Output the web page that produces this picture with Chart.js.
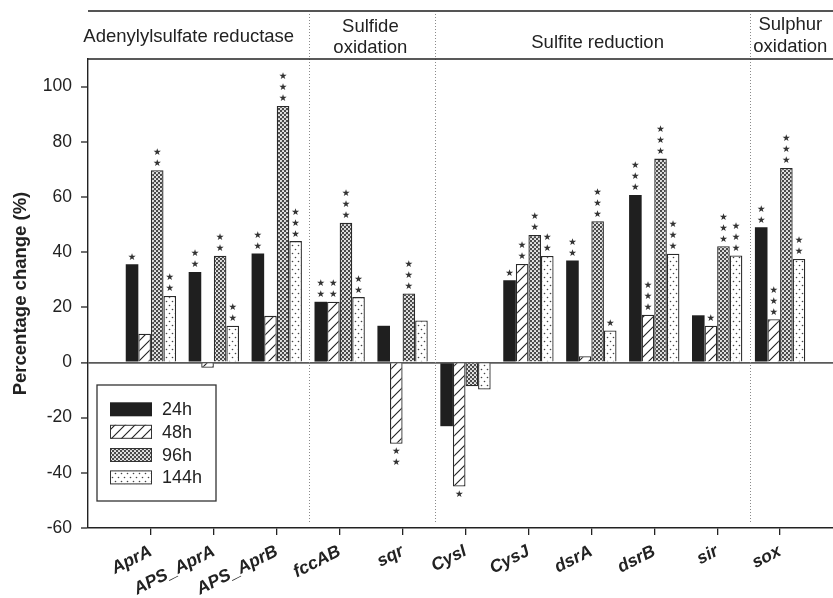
<!DOCTYPE html>
<html><head><meta charset="utf-8">
<script src="https://cdn.jsdelivr.net/npm/chart.js@4/dist/chart.umd.min.js"></script>
<style>
html,body{margin:0;padding:0;overflow:hidden;background:#fff;width:833px;height:598px}
#wrap{width:850px;height:598px;position:relative}
</style></head>
<body><div id="wrap"><canvas id="c" width="850" height="598"></canvas></div>
<script>
const categories = ['AprA','APS_AprA','APS_AprB','fccAB','sqr','CysI','CysJ','dsrA','dsrB','sir','sox'];
const seriesLabels = ['24h','48h','96h','144h'];
const values24h  = [35.6, 32.8, 39.5, 22.0, 13.3, -23.1, 29.8, 37.0, 60.7, 17.1, 49.0];
const values48h  = [10.4, -1.9, 16.9, 22.0, -29.5, -45.0, 35.7, 2.3, 17.3, 13.3, 15.7];
const values96h  = [69.7, 38.7, 93.0, 50.6, 25.0, -8.6, 46.2, 51.2, 73.9, 42.1, 70.5];
const values144h = [24.1, 13.3, 44.0, 23.7, 15.2, -9.8, 38.6, 11.6, 39.4, 38.8, 37.5];
const stars24h  = [1,2,2,2,0,0,1,2,3,0,2];
const stars48h  = [0,0,0,2,2,1,2,0,3,1,3];
const stars96h  = [2,2,3,3,3,0,2,3,3,3,3];
const stars144h = [2,2,3,2,0,0,2,1,3,3,2];
const groupTitles = [['Adenylylsulfate reductase'], ['Sulfide','oxidation'], ['Sulfite reduction'], ['Sulphur','oxidation']];
const groupLast = ['APS_AprB','sqr','sir','sox'];
const yTicks = [-60,-40,-20,0,20,40,60,80,100];
const yTitle = 'Percentage change (%)';

const FONT = "'Liberation Sans', Arial, sans-serif";
const axisLabels = [''].concat(categories, ['']);
const pad = a => [null].concat(a, [null]);

function makePattern(kind){
  const c = document.createElement('canvas');
  const g = c.getContext('2d');
  if (kind === 'hatch'){
    c.width = 10; c.height = 10;
    g.fillStyle = '#fff'; g.fillRect(0,0,10,10);
    g.strokeStyle = '#222'; g.lineWidth = 1.1;
    g.beginPath();
    g.moveTo(0,10); g.lineTo(10,0);
    g.moveTo(-2,2); g.lineTo(2,-2);
    g.moveTo(8,12); g.lineTo(12,8);
    g.stroke();
  } else if (kind === 'dense'){
    c.width = 4; c.height = 4;
    g.fillStyle = '#4a4a4a'; g.fillRect(0,0,4,4);
    g.fillStyle = '#f2f2f2';
    g.beginPath(); g.arc(1,1,1.05,0,Math.PI*2); g.fill();
    g.beginPath(); g.arc(3,3,1.05,0,Math.PI*2); g.fill();
  } else {
    c.width = 6; c.height = 8;
    g.fillStyle = '#fff'; g.fillRect(0,0,6,8);
    g.fillStyle = '#444';
    g.beginPath(); g.arc(1.5,1.5,0.8,0,Math.PI*2); g.fill();
    g.beginPath(); g.arc(4.5,5.5,0.8,0,Math.PI*2); g.fill();
  }
  return g.createPattern(c,'repeat');
}

const fills = ['#1f1f1f', makePattern('hatch'), makePattern('dense'), makePattern('sparse')];
const seriesValues = [values24h, values48h, values96h, values144h];
const seriesStars = [stars24h, stars48h, stars96h, stars144h];

const datasets = seriesLabels.map((lab,i)=>({
  label: lab,
  data: pad(seriesValues[i]),
  backgroundColor: fills[i],
  borderColor: '#2a2a2a',
  borderWidth: i === 0 ? 0 : 1.3,
  borderSkipped: 'start',
  categoryPercentage: 0.8,
  barPercentage: 1.0
}));

const decorPlugin = {
  id: 'decor',
  beforeDatasetsDraw(chart){
    const ctx = chart.ctx, ca = chart.chartArea, xs = chart.scales.x;
    const sp = xs.getPixelForValue(1) - xs.getPixelForValue(0);
    ctx.save();
    ctx.strokeStyle = '#8a8a8a'; ctx.lineWidth = 1; ctx.setLineDash([1,2]);
    groupLast.slice(0,-1).forEach(name=>{
      const idx = axisLabels.indexOf(name);
      const x = Math.round(xs.getPixelForValue(idx) + 0.52*sp) + 0.5;
      ctx.beginPath(); ctx.moveTo(x, 14); ctx.lineTo(x, ca.bottom - 4); ctx.stroke();
    });
    ctx.restore();
  },
  afterDraw(chart){
    const ctx = chart.ctx, ca = chart.chartArea, xs = chart.scales.x;
    const sp = xs.getPixelForValue(1) - xs.getPixelForValue(0);
    ctx.save();
    ctx.strokeStyle = '#555'; ctx.lineWidth = 2;
    ctx.beginPath(); ctx.moveTo(ca.left, 11); ctx.lineTo(chart.width, 11); ctx.stroke();
    ctx.strokeStyle = '#222'; ctx.lineWidth = 1.4;
    ctx.beginPath(); ctx.moveTo(ca.left, ca.top); ctx.lineTo(chart.width, ca.top); ctx.stroke();
    const bounds = [ca.left];
    groupLast.forEach(name=>{
      const idx = axisLabels.indexOf(name);
      bounds.push(xs.getPixelForValue(idx) + 0.52*sp);
    });
    const dx = [-10, -2, 5, 9];
    const oneLineY = [37, 0, 43, 0];
    const twoLineY = [[0,0],[27,48],[0,0],[25,47]];
    ctx.fillStyle = '#222'; ctx.font = '18.5px ' + FONT;
    ctx.textAlign = 'center'; ctx.textBaseline = 'middle';
    groupTitles.forEach((lines,g)=>{
      const cx = (bounds[g] + bounds[g+1]) / 2 + dx[g];
      if (lines.length === 1) ctx.fillText(lines[0], cx, oneLineY[g]);
      else lines.forEach((t,k)=>ctx.fillText(t, cx, twoLineY[g][k]));
    });
    ctx.fillStyle = '#333'; ctx.font = '9.5px "DejaVu Sans"';
    chart.data.datasets.forEach((ds,i)=>{
      const meta = chart.getDatasetMeta(i);
      meta.data.forEach((bar,j)=>{
        const v = ds.data[j];
        if (v === null) return;
        const n = seriesStars[i][j-1];
        for (let k=0;k<n;k++){
          const y = v >= 0 ? bar.y - 7 - k*11 : bar.y + 8 + k*11;
          ctx.fillText('\u2605', bar.x, y);
        }
      });
    });
    const lx = ca.left + 9, ly = 385, lw = 119, lh = 116;
    ctx.fillStyle = '#fff'; ctx.fillRect(lx, ly, lw, lh);
    ctx.strokeStyle = '#333'; ctx.lineWidth = 1.3; ctx.strokeRect(lx, ly, lw, lh);
    const rows = [409.3, 431.8, 455, 477.4];
    ctx.font = '18px ' + FONT; ctx.textAlign = 'left'; ctx.textBaseline = 'middle';
    chart.data.datasets.forEach((ds,i)=>{
      const y = rows[i];
      ctx.fillStyle = ds.backgroundColor;
      ctx.fillRect(lx + 13, y - 7, 42, 14);
      if (i > 0){ ctx.strokeStyle = '#333'; ctx.lineWidth = 1; ctx.strokeRect(lx + 13.5, y - 6.5, 41, 13); }
      ctx.fillStyle = '#222';
      ctx.fillText(ds.label, lx + 65, y + 1);
    });
    ctx.restore();
  }
};

new Chart(document.getElementById('c'), {
  type: 'bar',
  data: { labels: axisLabels, datasets },
  options: {
    responsive: false,
    animation: false,
    devicePixelRatio: 1,
    layout: { padding: { top: 59, right: 7, bottom: 0, left: 0 } },
    plugins: { legend: { display: false }, tooltip: { enabled: false } },
    scales: {
      x: {
        type: 'category',
        offset: false,
        grid: {
          offset: false, drawOnChartArea: false, drawTicks: true, tickLength: 7,
          color: c => (axisLabels[c.index] ? '#222' : 'rgba(0,0,0,0)'),
          lineWidth: 1.3
        },
        border: { display: true, color: '#222', width: 1.5 },
        ticks: {
          autoSkip: false, maxRotation: 27, minRotation: 27, padding: 6,
          color: '#222', font: { family: FONT, size: 17.5, weight: 'bold', style: 'italic' }
        },
        afterFit: s => { s.height = 70; s.paddingLeft = 0; s.paddingRight = 0; }
      },
      y: {
        min: -60, max: 110,
        afterBuildTicks: s => { s.ticks = yTicks.map(v => ({ value: v })); },
        grid: {
          drawTicks: true, tickLength: 7,
          color: c => (c.tick && c.tick.value === 0 ? '#5a5a5a' : 'rgba(0,0,0,0)'),
          lineWidth: c => (c.tick && c.tick.value === 0 ? 1.8 : 0),
          tickColor: '#222', tickWidth: 1.3
        },
        border: { display: true, color: '#222', width: 1.4 },
        ticks: { padding: 9, color: '#222', font: { family: FONT, size: 17.5 } },
        title: {
          display: true, text: yTitle, color: '#222',
          font: { family: FONT, size: 18.5, weight: 'bold' },
          padding: { top: 10, bottom: 0 }
        },
        afterFit: s => { s.width = 88; s.paddingTop = 0; s.paddingBottom = 0; }
      }
    }
  },
  plugins: [decorPlugin]
});
</script>
</body></html>
